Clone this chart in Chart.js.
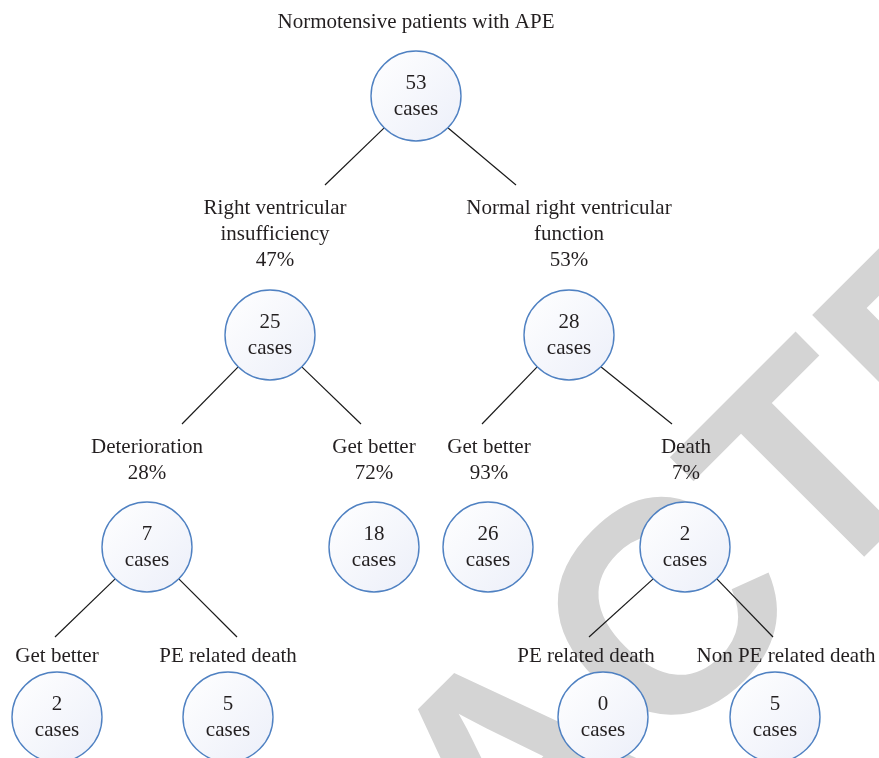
<!DOCTYPE html>
<html>
<head>
<meta charset="utf-8">
<script src="https://cdn.jsdelivr.net/npm/chart.js@4/dist/chart.umd.min.js"></script>
<style>
  html, body { margin: 0; padding: 0; background: #ffffff; }
  #wrap { width: 879px; height: 758px; position: relative; }
</style>
</head>
<body>
<div id="wrap"><canvas id="c" width="879" height="758"></canvas></div>
<script>
// ---------- data ----------
const chartTitle = 'Normotensive patients with APE';
const nodeCases = [53, 25, 28, 7, 18, 26, 2, 2, 5, 0, 5];
const nodeParent = [-1, 0, 0, 1, 1, 2, 2, 3, 3, 6, 6];
const nodeNames = [
  [],
  ['Right ventricular', 'insufficiency'],
  ['Normal right ventricular', 'function'],
  ['Deterioration'],
  ['Get better'],
  ['Get better'],
  ['Death'],
  ['Get better'],
  ['PE related death'],
  ['PE related death'],
  ['Non PE related death']
];
const nodePercent = ['', '47%', '53%', '28%', '72%', '93%', '7%', '', '', '', ''];
const casesWord = 'cases';
const watermarkText = 'RETRACTED';

// ---------- layout (positions in axis units) ----------
const nodeLevel = [0, 1, 1, 2, 2, 2, 2, 3, 3, 3, 3];
const nodeX = [416, 270, 569, 147, 374, 488, 685, 57, 228, 603, 775];
const levelY = [96, 335, 547, 717];
const labelX = [416, 275, 569, 147, 374, 489, 686, 57, 228, 586, 786];
const labelTopY = [0, 208, 447, 656];
const branchEndX = [null, 325, 516, 182, 361, 482, 672, 55, 237, 589, 773];
const branchEndY = [0, 185, 424, 637];

const R = 45;
const LINE_H = 26;
const TEXT_COLOR = '#231f20';
const FONT = '21px "Liberation Serif", "Times New Roman", serif';

// ---------- datasets ----------
const datasets = [];
datasets.push({
  type: 'scatter',
  label: 'nodes',
  order: 0,
  clip: false,
  data: nodeCases.map((v, i) => ({ x: nodeX[i], y: levelY[nodeLevel[i]], cases: v })),
  pointRadius: R,
  pointHoverRadius: R,
  pointBorderWidth: 1.4,
  pointHoverBorderWidth: 1.4,
  pointBorderColor: '#4f81c2',
  pointBackgroundColor: function (ctx) {
    const chart = ctx.chart;
    if (ctx.type !== 'data' || !chart.chartArea || !ctx.parsed) return '#f7f8fc';
    const py = chart.scales.y.getPixelForValue(ctx.parsed.y);
    const px = chart.scales.x.getPixelForValue(ctx.parsed.x);
    const g = chart.ctx.createLinearGradient(px - R, py - R, px + R, py + R);
    g.addColorStop(0, '#ffffff');
    g.addColorStop(1, '#eceff9');
    return g;
  }
});
for (let i = 1; i < nodeCases.length; i++) {
  const p = nodeParent[i];
  const px = nodeX[p], py = levelY[nodeLevel[p]];
  const dir = branchEndX[i] < px ? -1 : 1;
  const k = Math.SQRT1_2 * R;
  datasets.push({
    type: 'line',
    label: 'branch' + i,
    order: 1,
    clip: false,
    data: [{ x: px + dir * k, y: py + k }, { x: branchEndX[i], y: branchEndY[nodeLevel[i]] }],
    borderColor: '#1a1a1a',
    borderWidth: 1.2,
    pointRadius: 0,
    pointHoverRadius: 0,
    fill: false,
    tension: 0
  });
}

// ---------- plugins ----------
const watermarkPlugin = {
  id: 'watermark',
  beforeDatasetsDraw(chart) {
    const ctx = chart.ctx;
    ctx.save();
    ctx.fillStyle = '#d4d4d4';
    ctx.font = 'bold 302px "Liberation Sans", Arial, sans-serif';
    ctx.textAlign = 'center';
    ctx.textBaseline = 'alphabetic';
    ctx.translate(583, 838);
    ctx.rotate(-Math.PI / 4);
    ctx.fillText(watermarkText, 0, 0);
    ctx.restore();
  }
};

const labelsPlugin = {
  id: 'treeLabels',
  afterDatasetsDraw(chart) {
    const ctx = chart.ctx;
    const xs = chart.scales.x, ys = chart.scales.y;
    ctx.save();
    ctx.fillStyle = TEXT_COLOR;
    ctx.font = FONT;
    ctx.textAlign = 'center';
    ctx.textBaseline = 'middle';
    // title
    ctx.fillText(chartTitle, xs.getPixelForValue(nodeX[0]), ys.getPixelForValue(22));
    for (let i = 0; i < nodeCases.length; i++) {
      const cx = xs.getPixelForValue(nodeX[i]);
      const cy = ys.getPixelForValue(levelY[nodeLevel[i]]);
      ctx.fillText(String(nodeCases[i]), cx, cy - 13);
      ctx.fillText(casesWord, cx, cy + 13);
      const lines = nodeNames[i].slice();
      if (nodePercent[i]) lines.push(nodePercent[i]);
      const lx = xs.getPixelForValue(labelX[i]);
      lines.forEach((t, j) => {
        ctx.fillText(t, lx, ys.getPixelForValue(labelTopY[nodeLevel[i]] + j * LINE_H));
      });
    }
    ctx.restore();
  }
};

new Chart(document.getElementById('c'), {
  type: 'scatter',
  data: { datasets },
  options: {
    responsive: false,
    animation: false,
    events: [],
    devicePixelRatio: 1,
    layout: { padding: 0, autoPadding: false },
    scales: {
      x: { type: 'linear', min: 0, max: 879, display: false },
      y: { type: 'linear', min: 0, max: 758, reverse: true, display: false }
    },
    plugins: {
      legend: { display: false },
      tooltip: { enabled: false },
      title: { display: false }
    }
  },
  plugins: [watermarkPlugin, labelsPlugin]
});
</script>
</body>
</html>
